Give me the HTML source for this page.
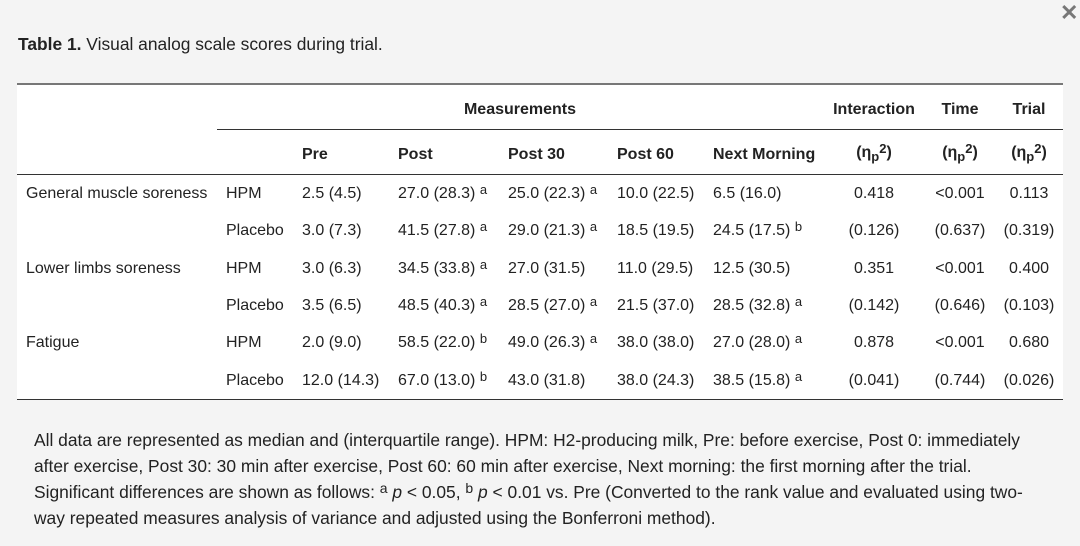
<!DOCTYPE html>
<html><head><style>
body{margin:0;width:1080px;height:546px;background:#f4f4f4;font-family:"Liberation Sans",Arial,sans-serif;color:#222;position:relative;overflow:hidden}
.t{position:absolute;font-size:16px;white-space:nowrap;line-height:18px}
.b{font-weight:bold}
.c{transform:translateX(-50%)}
sup{font-size:13px;vertical-align:top;position:relative;top:-4px}
sub{font-size:13px}
.r{position:absolute;background:#555}
.f{font-size:17.4px}
.f sup{font-size:14px;top:-4px}
</style></head><body>
<div class="t" style="left:1060px;top:4px;font-size:22px;color:#777;font-weight:bold">✕</div>
<div class="t" style="left:18px;top:35px;font-size:17.4px"><b>Table 1.</b> Visual analog scale scores during trial.</div>
<div style="position:absolute;left:17px;top:84px;width:1046px;height:316px;background:#fff"></div>
<div class="r" style="left:17px;top:83px;width:1046px;height:2px;background:#777"></div>
<div class="r" style="left:217px;top:129px;width:846px;height:1px;background:#333"></div>
<div class="r" style="left:17px;top:174px;width:1046px;height:1px;background:#333"></div>
<div class="r" style="left:17px;top:399px;width:1046px;height:1px;background:#333"></div>

<div class="t b c" style="left:520px;top:101px">Measurements</div>
<div class="t b c" style="left:874px;top:101px">Interaction</div>
<div class="t b c" style="left:960px;top:101px">Time</div>
<div class="t b c" style="left:1029px;top:101px">Trial</div>

<div class="t b" style="left:302px;top:146px">Pre</div>
<div class="t b" style="left:398px;top:146px">Post</div>
<div class="t b" style="left:508px;top:146px">Post 30</div>
<div class="t b" style="left:617px;top:146px">Post 60</div>
<div class="t b" style="left:713px;top:146px">Next Morning</div>
<div class="t b c" style="left:874px;top:144px">(η<sub>p</sub><sup>2</sup>)</div>
<div class="t b c" style="left:960px;top:144px">(η<sub>p</sub><sup>2</sup>)</div>
<div class="t b c" style="left:1029px;top:144px">(η<sub>p</sub><sup>2</sup>)</div>

<div class="t" style="left:26px;top:185px">General muscle soreness</div>
<div class="t" style="left:26px;top:260px">Lower limbs soreness</div>
<div class="t" style="left:26px;top:334px">Fatigue</div>

<div class="t" style="left:226px;top:185px">HPM</div>
<div class="t" style="left:226px;top:222px">Placebo</div>
<div class="t" style="left:226px;top:260px">HPM</div>
<div class="t" style="left:226px;top:297px">Placebo</div>
<div class="t" style="left:226px;top:334px">HPM</div>
<div class="t" style="left:226px;top:372px">Placebo</div>

<div class="t" style="left:302px;top:185px">2.5 (4.5)</div>
<div class="t" style="left:398px;top:185px">27.0 (28.3) <sup>a</sup></div>
<div class="t" style="left:508px;top:185px">25.0 (22.3) <sup>a</sup></div>
<div class="t" style="left:617px;top:185px">10.0 (22.5)</div>
<div class="t" style="left:713px;top:185px">6.5 (16.0)</div>
<div class="t c" style="left:874px;top:185px">0.418</div>
<div class="t c" style="left:960px;top:185px">&lt;0.001</div>
<div class="t c" style="left:1029px;top:185px">0.113</div>

<div class="t" style="left:302px;top:222px">3.0 (7.3)</div>
<div class="t" style="left:398px;top:222px">41.5 (27.8) <sup>a</sup></div>
<div class="t" style="left:508px;top:222px">29.0 (21.3) <sup>a</sup></div>
<div class="t" style="left:617px;top:222px">18.5 (19.5)</div>
<div class="t" style="left:713px;top:222px">24.5 (17.5) <sup>b</sup></div>
<div class="t c" style="left:874px;top:222px">(0.126)</div>
<div class="t c" style="left:960px;top:222px">(0.637)</div>
<div class="t c" style="left:1029px;top:222px">(0.319)</div>

<div class="t" style="left:302px;top:260px">3.0 (6.3)</div>
<div class="t" style="left:398px;top:260px">34.5 (33.8) <sup>a</sup></div>
<div class="t" style="left:508px;top:260px">27.0 (31.5)</div>
<div class="t" style="left:617px;top:260px">11.0 (29.5)</div>
<div class="t" style="left:713px;top:260px">12.5 (30.5)</div>
<div class="t c" style="left:874px;top:260px">0.351</div>
<div class="t c" style="left:960px;top:260px">&lt;0.001</div>
<div class="t c" style="left:1029px;top:260px">0.400</div>

<div class="t" style="left:302px;top:297px">3.5 (6.5)</div>
<div class="t" style="left:398px;top:297px">48.5 (40.3) <sup>a</sup></div>
<div class="t" style="left:508px;top:297px">28.5 (27.0) <sup>a</sup></div>
<div class="t" style="left:617px;top:297px">21.5 (37.0)</div>
<div class="t" style="left:713px;top:297px">28.5 (32.8) <sup>a</sup></div>
<div class="t c" style="left:874px;top:297px">(0.142)</div>
<div class="t c" style="left:960px;top:297px">(0.646)</div>
<div class="t c" style="left:1029px;top:297px">(0.103)</div>

<div class="t" style="left:302px;top:334px">2.0 (9.0)</div>
<div class="t" style="left:398px;top:334px">58.5 (22.0) <sup>b</sup></div>
<div class="t" style="left:508px;top:334px">49.0 (26.3) <sup>a</sup></div>
<div class="t" style="left:617px;top:334px">38.0 (38.0)</div>
<div class="t" style="left:713px;top:334px">27.0 (28.0) <sup>a</sup></div>
<div class="t c" style="left:874px;top:334px">0.878</div>
<div class="t c" style="left:960px;top:334px">&lt;0.001</div>
<div class="t c" style="left:1029px;top:334px">0.680</div>

<div class="t" style="left:302px;top:372px">12.0 (14.3)</div>
<div class="t" style="left:398px;top:372px">67.0 (13.0) <sup>b</sup></div>
<div class="t" style="left:508px;top:372px">43.0 (31.8)</div>
<div class="t" style="left:617px;top:372px">38.0 (24.3)</div>
<div class="t" style="left:713px;top:372px">38.5 (15.8) <sup>a</sup></div>
<div class="t c" style="left:874px;top:372px">(0.041)</div>
<div class="t c" style="left:960px;top:372px">(0.744)</div>
<div class="t c" style="left:1029px;top:372px">(0.026)</div>

<div class="t f" style="left:34px;top:431px">All data are represented as median and (interquartile range). HPM: H2-producing milk, Pre: before exercise, Post 0: immediately</div>
<div class="t f" style="left:34px;top:457px">after exercise, Post 30: 30 min after exercise, Post 60: 60 min after exercise, Next morning: the first morning after the trial.</div>
<div class="t f" style="left:34px;top:483px">Significant differences are shown as follows: <sup>a</sup> <i>p</i> &lt; 0.05, <sup>b</sup> <i>p</i> &lt; 0.01 vs. Pre (Converted to the rank value and evaluated using two-</div>
<div class="t f" style="left:34px;top:509px">way repeated measures analysis of variance and adjusted using the Bonferroni method).</div>
</body></html>
